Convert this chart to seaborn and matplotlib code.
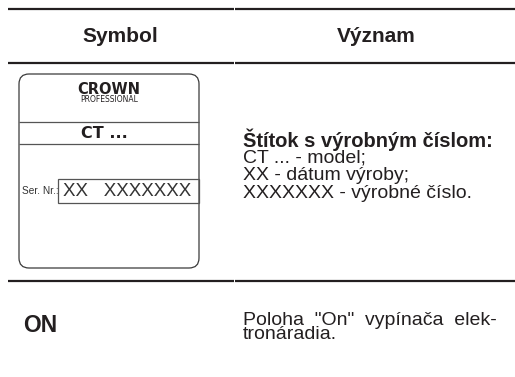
import matplotlib
matplotlib.use("Agg")
import matplotlib.pyplot as plt
from matplotlib.patches import FancyBboxPatch, Rectangle
import seaborn as sns

# table content
header_labels = ["Symbol", "Význam"]
label_brand = "CROWN"
label_sub = "PROFESSIONAL"
label_model = "CT ..."
serial_caption = "Ser. Nr.:"
serial_value = "XX   XXXXXXX"
meaning_title = "Štítok s výrobným číslom:"
meaning_lines = ["CT ... - model;", "XX - dátum výroby;", "XXXXXXX - výrobné číslo."]
row2_symbol = "ON"
row2_lines = ['Poloha  "On"  vypínača  elek-', "tronáradia."]

sns.set_theme(style="white")
plt.rcParams["font.family"] = ["Liberation Sans", "DejaVu Sans"]
ink = "#231f20"

fig = plt.figure(figsize=(5.15, 3.77), dpi=100)
ax = fig.add_axes([0, 0, 1, 1])
ax.set_xlim(0, 515)
ax.set_ylim(377, 0)
ax.axis("off")

# horizontal rules, split at the column boundary
for y in [9, 63, 281]:
    ax.hlines(y, 8, 233.5, color=ink, lw=1.6)
    ax.hlines(y, 234.5, 515, color=ink, lw=1.6)

# header
ax.text(120, 37, header_labels[0], ha="center", va="center", fontsize=15,
        fontweight="bold", color=ink)
ax.text(376, 37, header_labels[1], ha="center", va="center", fontsize=15,
        fontweight="bold", color=ink)

# rating label drawing
box = FancyBboxPatch((19, 74), 180, 194, boxstyle="round,pad=0,rounding_size=10",
                     fill=False, ec="#3a3a3a", lw=0.9)
ax.add_patch(box)
ax.hlines([122, 144], 19, 199, color="#555555", lw=0.9)
ax.text(109, 89, label_brand, ha="center", va="center", fontsize=10.5,
        fontweight="bold", family="DejaVu Sans", color=ink)
ax.text(109, 99.5, label_sub, ha="center", va="center", fontsize=5.5,
        family="DejaVu Sans", color=ink)
ax.text(104, 133, label_model, ha="center", va="center", fontsize=11.5,
        fontweight="bold", family="DejaVu Sans", color=ink)
ax.add_patch(Rectangle((58, 179), 141, 24, fill=False, ec="#555555", lw=0.9))
ax.text(22, 191, serial_caption, ha="left", va="center", fontsize=7.3, color="#333333")
ax.text(63, 191.5, serial_value, ha="left", va="center", fontsize=13.5, color="#333333")

# meaning, first row (multi-line block anchored on its last baseline)
ax.text(243, 147, meaning_title, ha="left", va="baseline", fontsize=14.5,
        fontweight="bold", color=ink)
ax.text(243, 198, "\n".join(meaning_lines), ha="left", va="baseline",
        fontsize=14, linespacing=1.05, color=ink)

# second row
ax.text(23, 325, row2_symbol, ha="left", va="center", fontsize=16.5,
        fontweight="bold", color=ink)
ax.text(243, 339, "\n".join(row2_lines), ha="left", va="baseline",
        fontsize=14, linespacing=0.78, color=ink)

fig.savefig("out.png", dpi=100, facecolor="white")
